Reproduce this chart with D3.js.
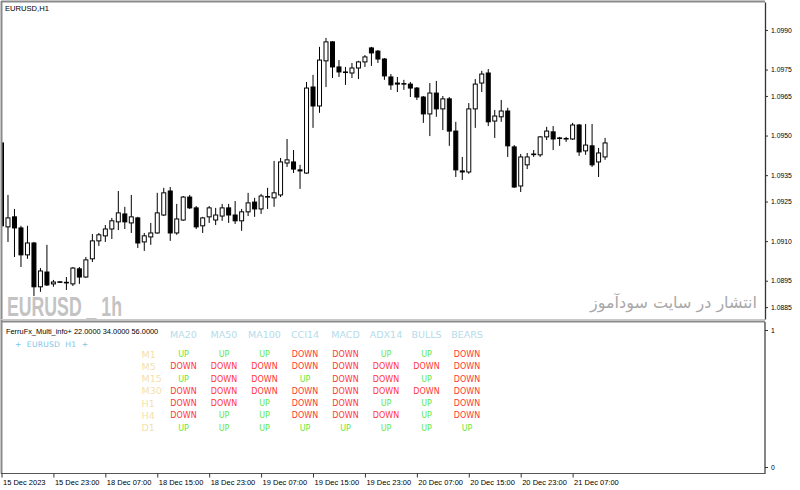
<!DOCTYPE html>
<html>
<head>
<meta charset="utf-8">
<title>EURUSD,H1</title>
<script src="https://d3js.org/d3.v7.min.js"></script>
<style>
  body { margin: 0; background: #fff; }
  svg { display: block; }
  text { font-family: "Liberation Sans", Arial, sans-serif; }
  .axis path, .axis line { stroke: #333; }
  .axis text { fill: #000; }
</style>
</head>
<body>
<div id="chart"></div>
<script>
// EURUSD H1 bars, 15 Dec 15:00 .. 21 Dec 12:00
const open = [1.09472,1.09154,1.09192,1.09150,1.09048,1.09093,1.08927,1.08983,1.08938,1.08944,
  1.08942,1.08938,1.08995,1.08964,1.09033,1.09101,1.09120,1.09146,1.09173,1.09203,
  1.09169,1.09188,1.09097,1.09116,1.09131,1.09199,1.09290,1.09131,1.09180,1.09267,
  1.09226,1.09158,1.09192,1.09180,1.09195,1.09226,1.09199,1.09177,1.09211,1.09248,
  1.09222,1.09267,1.09264,1.09275,1.09396,1.09400,1.09370,1.09358,1.09684,1.09612,
  1.09783,1.09855,1.09760,1.09741,1.09737,1.09756,1.09779,1.09832,1.09820,1.09790,
  1.09722,1.09699,1.09695,1.09695,1.09680,1.09646,1.09582,1.09661,1.09601,1.09639,
  1.09517,1.09366,1.09362,1.09601,1.09699,1.09737,1.09555,1.09571,1.09593,1.09457,
  1.09309,1.09389,1.09430,1.09427,1.09495,1.09514,1.09491,1.09487,1.09487,1.09540,
  1.09442,1.09461,1.09400,1.09419];
const high = [1.09476,1.09275,1.09222,1.09158,1.09158,1.09097,1.08998,1.09086,1.08953,1.08949,
  1.08964,1.09002,1.09002,1.09040,1.09127,1.09131,1.09161,1.09188,1.09290,1.09230,
  1.09275,1.09192,1.09131,1.09169,1.09283,1.09302,1.09305,1.09241,1.09271,1.09275,
  1.09233,1.09192,1.09233,1.09226,1.09241,1.09241,1.09252,1.09222,1.09283,1.09264,
  1.09279,1.09302,1.09404,1.09415,1.09487,1.09445,1.09389,1.09703,1.09730,1.09836,
  1.09870,1.09858,1.09786,1.09760,1.09775,1.09783,1.09805,1.09836,1.09824,1.09794,
  1.09733,1.09722,1.09711,1.09703,1.09684,1.09650,1.09699,1.09707,1.09650,1.09646,
  1.09552,1.09419,1.09623,1.09714,1.09745,1.09752,1.09597,1.09635,1.09605,1.09464,
  1.09430,1.09434,1.09445,1.09498,1.09533,1.09536,1.09495,1.09495,1.09548,1.09544,
  1.09544,1.09544,1.09453,1.09491];
const low = [1.09021,1.09097,1.09040,1.09002,1.09033,1.08892,1.08908,1.08930,1.08927,1.08942,
  1.08915,1.08930,1.08938,1.08961,1.09021,1.09082,1.09097,1.09108,1.09142,1.09146,
  1.09131,1.09074,1.09063,1.09086,1.09128,1.09195,1.09101,1.09124,1.09177,1.09222,
  1.09146,1.09131,1.09169,1.09161,1.09177,1.09169,1.09165,1.09139,1.09195,1.09192,
  1.09203,1.09222,1.09230,1.09267,1.09381,1.09358,1.09298,1.09355,1.09529,1.09586,
  1.09684,1.09718,1.09722,1.09692,1.09718,1.09714,1.09760,1.09764,1.09775,1.09711,
  1.09673,1.09665,1.09673,1.09646,1.09635,1.09548,1.09498,1.09571,1.09521,1.09461,
  1.09343,1.09332,1.09355,1.09529,1.09665,1.09536,1.09491,1.09552,1.09419,1.09302,
  1.09286,1.09373,1.09419,1.09419,1.09483,1.09445,1.09461,1.09476,1.09483,1.09423,
  1.09427,1.09381,1.09343,1.09408];
const close = [1.09158,1.09188,1.09150,1.09048,1.09093,1.08927,1.08987,1.08934,1.08945,1.08946,
  1.08944,1.08998,1.08964,1.09029,1.09101,1.09124,1.09146,1.09177,1.09207,1.09173,
  1.09192,1.09093,1.09120,1.09131,1.09207,1.09283,1.09131,1.09184,1.09267,1.09226,
  1.09154,1.09188,1.09226,1.09199,1.09226,1.09199,1.09177,1.09211,1.09245,1.09222,
  1.09271,1.09269,1.09283,1.09400,1.09408,1.09373,1.09366,1.09680,1.09612,1.09786,
  1.09855,1.09760,1.09741,1.09739,1.09756,1.09779,1.09798,1.09813,1.09790,1.09726,
  1.09692,1.09695,1.09697,1.09680,1.09646,1.09582,1.09661,1.09601,1.09639,1.09517,
  1.09370,1.09362,1.09601,1.09695,1.09733,1.09552,1.09574,1.09593,1.09461,1.09305,
  1.09419,1.09419,1.09428,1.09495,1.09517,1.09487,1.09489,1.09489,1.09540,1.09438,
  1.09464,1.09389,1.09434,1.09472];

const priceTicks = [1.0990, 1.0975, 1.0965, 1.0950, 1.0935, 1.0925, 1.0910, 1.0895, 1.0885];
const timeTickBars = [0, 8, 16, 24, 32, 40, 48, 56, 64, 72, 80, 88];
const timeTickLabels = ["15 Dec 2023", "15 Dec 23:00", "18 Dec 07:00", "18 Dec 15:00",
  "18 Dec 23:00", "19 Dec 07:00", "19 Dec 15:00", "19 Dec 23:00", "20 Dec 07:00",
  "20 Dec 15:00", "20 Dec 23:00", "21 Dec 07:00"];

// FerruFx_Multi_info+ table
const indicators = ["MA20", "MA50", "MA100", "CCI14", "MACD", "ADX14", "BULLS", "BEARS"];
const timeframes = ["M1", "M5", "M15", "M30", "H1", "H4", "D1"];
const signals = [
  ["UP", "UP", "UP", "DOWN", "DOWN", "UP", "UP", "DOWN"],
  ["DOWN", "DOWN", "DOWN", "DOWN", "DOWN", "DOWN", "DOWN", "DOWN"],
  ["UP", "DOWN", "DOWN", "UP", "DOWN", "DOWN", "UP", "DOWN"],
  ["DOWN", "DOWN", "DOWN", "DOWN", "DOWN", "DOWN", "DOWN", "DOWN"],
  ["DOWN", "DOWN", "UP", "DOWN", "DOWN", "UP", "UP", "DOWN"],
  ["DOWN", "UP", "UP", "DOWN", "DOWN", "DOWN", "UP", "DOWN"],
  ["UP", "UP", "UP", "UP", "UP", "UP", "UP", "UP"]
];

const width = 800, height = 490;
const axisX = 765;
const mainTop = 2, mainBottom = 319;
const subTop = 322, subBottom = 473.5;

const svg = d3.select("#chart").append("svg")
  .attr("width", width)
  .attr("height", height);

svg.append("rect").attr("width", width).attr("height", height).attr("fill", "#fff");

const bars = open.map((o, i) => ({i: i, o: o, h: high[i], l: low[i], c: close[i]}));

const x = d3.scaleLinear().domain([0, 93]).range([1.5, 1.5 + 6.49 * 93]);
const y = d3.scaleLinear().domain([1.08805, 1.10006]).range([mainBottom, mainTop]);

svg.append("clipPath").attr("id", "mainClip")
  .append("rect").attr("x", 2).attr("y", mainTop).attr("width", axisX - 2).attr("height", mainBottom - mainTop);

// watermarks
svg.append("text")
  .attr("x", 7).attr("y", 316)
  .attr("textLength", 115).attr("lengthAdjust", "spacingAndGlyphs")
  .style("font-family", "'Liberation Sans Narrow', 'Arial Narrow', 'Liberation Sans', sans-serif")
  .style("font-weight", "bold").style("font-size", "27px")
  .attr("fill", "#c3c3c3")
  .text("EURUSD _ 1h");

const fa = svg.append("text")
  .attr("x", 757).attr("y", 308)
  .attr("text-anchor", "end")
  .style("font-family", "'DejaVu Sans', sans-serif")
  .style("font-size", "15px")
  .attr("fill", "#a8a8a8")
  .text("انتشار در سایت سودآموز");
const faW = fa.node().getComputedTextLength();
if (faW > 0) fa.style("font-size", (15 * 167 / faW) + "px");

// candles
const g = svg.append("g").attr("clip-path", "url(#mainClip)");
const candle = g.selectAll("g.bar").data(bars).join("g").attr("class", "bar");

candle.append("line")
  .attr("x1", d => x(d.i)).attr("x2", d => x(d.i))
  .attr("y1", d => y(d.h)).attr("y2", d => y(d.l))
  .attr("stroke", "#000").attr("stroke-width", 1);

candle.append("rect")
  .attr("x", d => x(d.i) - 2)
  .attr("width", 4)
  .attr("y", d => y(Math.max(d.o, d.c)))
  .attr("height", d => Math.max(0.6, Math.abs(y(d.o) - y(d.c))))
  .attr("fill", d => d.c < d.o ? "#000" : "#fff")
  .attr("stroke", "#000").attr("stroke-width", 1);

// title
svg.append("text").attr("x", 5).attr("y", 11)
  .style("font-size", "7.6px").attr("fill", "#000").text("EURUSD,H1");

// panel frames
const frame = "#8a8a8a";
svg.append("line").attr("x1", 1).attr("x2", axisX).attr("y1", 1.5).attr("y2", 1.5)
  .attr("stroke", frame).attr("stroke-width", 2);
svg.append("line").attr("x1", 1.5).attr("x2", 1.5).attr("y1", 1).attr("y2", subBottom)
  .attr("stroke", frame).attr("stroke-width", 2);
svg.append("line").attr("x1", 1).attr("x2", axisX).attr("y1", 319.5).attr("y2", 319.5)
  .attr("stroke", "#c8c8c8").attr("stroke-width", 1);
svg.append("line").attr("x1", 1).attr("x2", axisX).attr("y1", 321.5).attr("y2", 321.5)
  .attr("stroke", frame).attr("stroke-width", 2);
svg.append("line").attr("x1", 1).attr("x2", axisX + 0.5).attr("y1", subBottom).attr("y2", subBottom)
  .attr("stroke", "#555").attr("stroke-width", 1.2);

// price axis
const yAxis = svg.append("g").attr("class", "axis")
  .attr("transform", `translate(${axisX},0)`)
  .call(d3.axisRight(y).tickValues(priceTicks).tickSize(3).tickSizeOuter(0).tickPadding(3)
    .tickFormat(d3.format(".4f")));
yAxis.selectAll("text").style("font-size", "6.8px");
yAxis.select(".domain").attr("stroke", "#444").attr("stroke-width", 1.3);

// indicator window axis
const ySub = d3.scaleLinear().domain([0, 1]).range([467, 330]);
svg.append("line").attr("x1", axisX).attr("x2", axisX).attr("y1", subTop).attr("y2", subBottom)
  .attr("stroke", "#444").attr("stroke-width", 1.3);
const subAxis = svg.append("g").attr("class", "axis")
  .attr("transform", `translate(${axisX},0)`)
  .call(d3.axisRight(ySub).tickValues([0, 1]).tickSize(3).tickSizeOuter(0).tickPadding(3)
    .tickFormat(d3.format("d")));
subAxis.select(".domain").remove();
subAxis.selectAll("text").style("font-size", "6.8px");

// time axis
const xAxis = svg.append("g").attr("class", "axis")
  .attr("transform", `translate(0,${subBottom})`)
  .call(d3.axisBottom(x).tickValues(timeTickBars).tickSize(4).tickSizeOuter(0)
    .tickFormat((d, k) => timeTickLabels[k]));
xAxis.select(".domain").remove();
xAxis.selectAll("text")
  .attr("text-anchor", "start").attr("dx", 1).attr("y", 6).attr("dy", "0.71em")
  .style("font-size", "7.5px");

// indicator panel text
svg.append("text").attr("x", 6).attr("y", 334)
  .style("font-size", "7.4px").attr("fill", "#000")
  .text("FerruFx_Multi_info+ 22.0000 34.0000 56.0000");

svg.append("text").attr("x", 15).attr("y", 346.5)
  .style("font-family", "'DejaVu Sans', sans-serif").style("font-size", "7.6px")
  .style("white-space", "pre")
  .attr("textLength", 73)
  .attr("fill", "#7ec4e6")
  .text("+  EURUSD  H1  +");

const col = d3.scalePoint().domain(indicators).range([183.5, 467]);
const row = d3.scalePoint().domain(timeframes).range([354.3, 427.7]);

svg.append("g").selectAll("text").data(indicators).join("text")
  .attr("x", d => col(d)).attr("y", 337.5)
  .attr("text-anchor", "middle")
  .style("font-family", "'DejaVu Sans', sans-serif").style("font-size", "9.5px")
  .attr("fill", "#b4dcea")
  .text(d => d);

svg.append("g").selectAll("text").data(timeframes).join("text")
  .attr("x", 141.5).attr("y", d => row(d) + 3.4)
  .style("font-family", "'DejaVu Sans', sans-serif").style("font-size", "9.5px")
  .attr("fill", "#f3dfae")
  .text(d => d);

const cells = [];
signals.forEach((r, ri) => r.forEach((v, ci) => cells.push({tf: timeframes[ri], ind: indicators[ci], v: v})));

svg.append("g").selectAll("text").data(cells).join("text")
  .attr("x", d => col(d.ind)).attr("y", d => row(d.tf) + 2.9)
  .attr("text-anchor", "middle")
  .style("font-family", "'DejaVu Sans', sans-serif").style("font-size", "8px")
  .attr("fill", d => d.v === "UP" ? "#5fe83a" : "#ff3636")
  .text(d => d.v);
</script>
</body>
</html>
